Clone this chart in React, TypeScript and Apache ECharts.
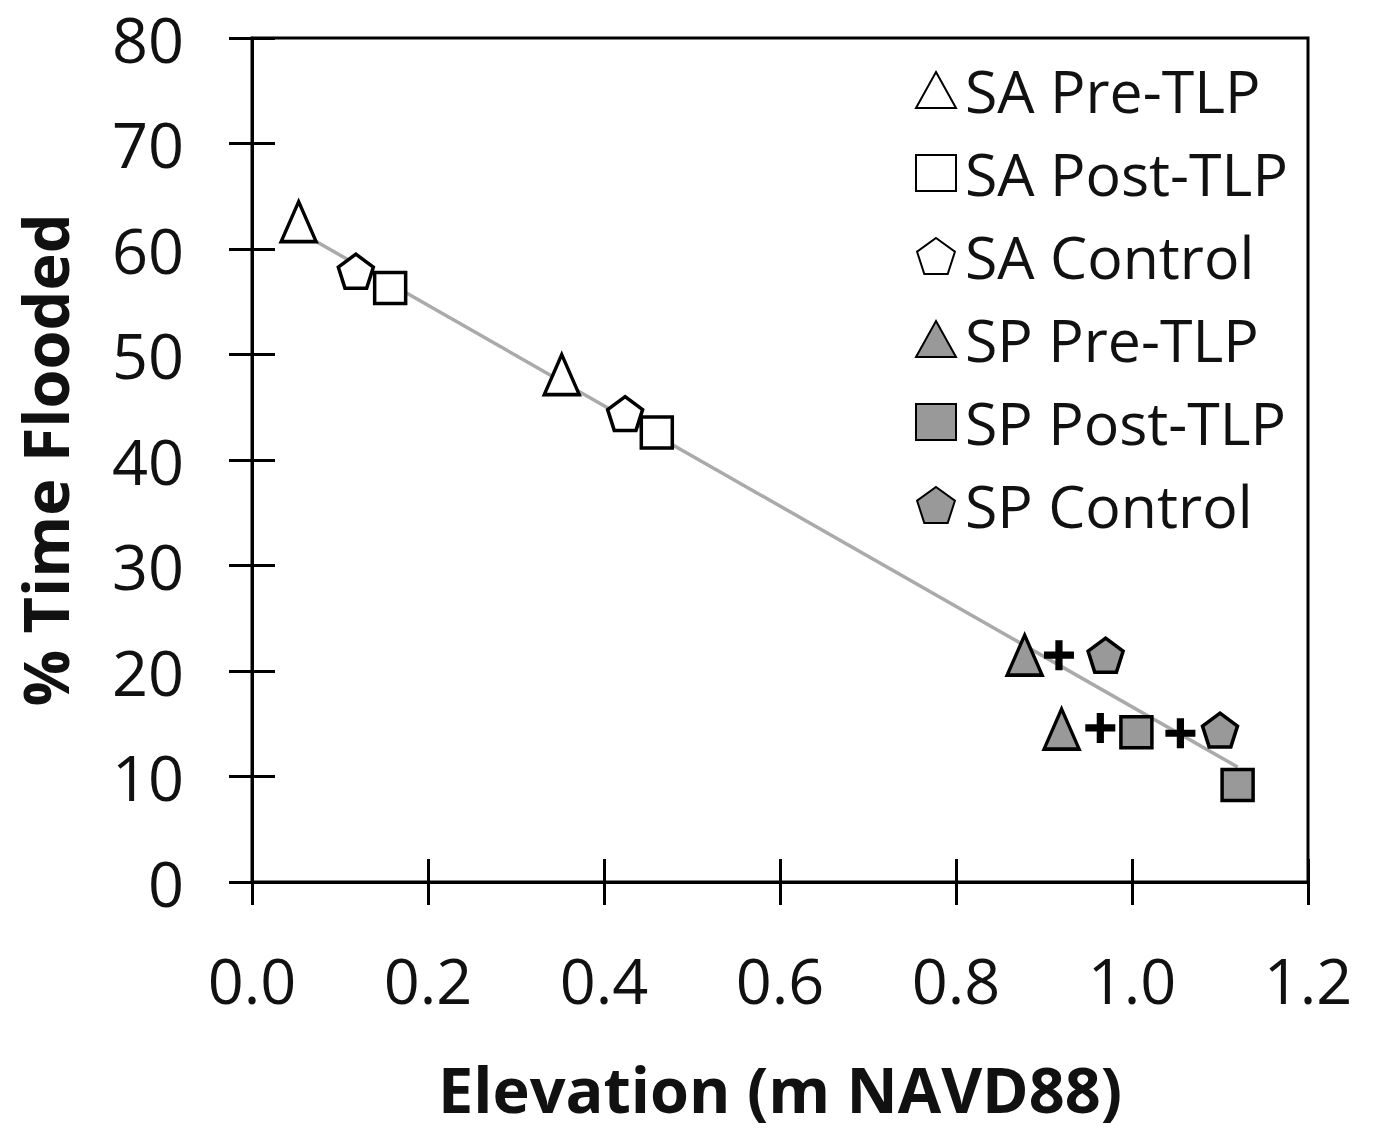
import React, { useEffect, useRef } from "react";
import * as echarts from "echarts";

const saPreTLP: [number, number][] = [[0.053, 62.6], [0.352, 48.1]];
const saPostTLP: [number, number][] = [[0.157, 56.3], [0.46, 42.6]];
const saControl: [number, number][] = [[0.118, 57.9], [0.424, 44.4]];
const spPreTLP: [number, number][] = [[0.878, 21.5], [0.92, 14.5]];
const spPostTLP: [number, number][] = [[1.005, 14.2], [1.12, 9.2]];
const spControl: [number, number][] = [[0.97, 21.5], [1.1, 14.4]];
const plusMarks: [number, number][] = [[0.917, 21.5], [0.964, 14.6], [1.055, 14.1]];
const trendLine: [number, number][] = [[0.05, 61.8], [1.12, 10.9]];

const xTicks = { min: 0, max: 1.2, interval: 0.2 };
const yTicks = { min: 0, max: 80, interval: 10 };

const PENTAGON = "path://M0,-1L0.951,-0.309L0.588,0.809L-0.588,0.809L-0.951,-0.309Z";
const PLUS = "path://M3.8,0H6.2V3.8H10V6.2H6.2V10H3.8V6.2H0V3.8H3.8Z";
const FONT = "'Open Sans', sans-serif";

export default function App() {
  const ref = useRef<HTMLDivElement>(null);
  useEffect(() => {
    if (!ref.current) return;
    const chart = echarts.init(ref.current, undefined, { renderer: "svg" });
    const mk = (name: string, data: [number, number][], symbol: string, size: number[], fill: string) => ({
      name,
      type: "scatter",
      data,
      symbol,
      symbolSize: size,
      z: 5,
      itemStyle: { color: fill, borderColor: "#000", borderWidth: 3.5, opacity: 1 },
    });
    const axisCommon = {
      type: "value",
      axisLine: { show: true, lineStyle: { color: "#000", width: 3 } },
      splitLine: { show: false },
    };
    chart.setOption({
      animation: false,
      backgroundColor: "#fff",
      grid: {
        left: 252,
        right: 65,
        top: 38,
        bottom: 248,
        show: true,
        borderColor: "#000",
        borderWidth: 3,
        backgroundColor: "transparent",
      },
      legend: {
        orient: "vertical",
        left: 910,
        top: 55,
        itemWidth: 40,
        itemHeight: 36,
        itemGap: 23,
        data: ["SA Pre-TLP", "SA Post-TLP", "SA Control", "SP Pre-TLP", "SP Post-TLP", "SP Control"],
        textStyle: {
          fontFamily: FONT,
          fontSize: 59,
          color: "#111",
          lineHeight: 60,
          padding: [0, 0, 0, 4],
        },
      },
      xAxis: [
        {
          ...axisCommon,
          ...xTicks,
          position: "bottom",
          axisTick: { show: true, inside: false, length: 23, lineStyle: { color: "#000", width: 3 } },
          axisLabel: {
            fontFamily: FONT,
            fontSize: 63,
            lineHeight: 50,
            color: "#111",
            margin: 72,
            formatter: (v: number) => v.toFixed(1),
          },
          name: "Elevation (m NAVD88)",
          nameLocation: "middle",
          nameGap: 176,
          nameTextStyle: { fontFamily: FONT, fontSize: 63, lineHeight: 60, fontWeight: "bold", color: "#111" },
        },
        {
          ...axisCommon,
          ...xTicks,
          position: "bottom",
          axisLine: { show: false },
          axisTick: { show: true, inside: true, length: 23, lineStyle: { color: "#000", width: 3 } },
          axisLabel: { show: false },
        },
      ],
      yAxis: [
        {
          ...axisCommon,
          ...yTicks,
          position: "left",
          axisTick: { show: true, inside: false, length: 23, lineStyle: { color: "#000", width: 3 } },
          axisLabel: { fontFamily: FONT, fontSize: 63, lineHeight: 50, color: "#111", margin: 68 },
          name: "% Time Flooded",
          nameLocation: "middle",
          nameGap: 176,
          nameTextStyle: { fontFamily: FONT, fontSize: 63, fontWeight: "bold", color: "#111" },
        },
        {
          ...axisCommon,
          ...yTicks,
          position: "left",
          axisLine: { show: false },
          axisTick: { show: true, inside: true, length: 23, lineStyle: { color: "#000", width: 3 } },
          axisLabel: { show: false },
        },
      ],
      series: [
        {
          name: "Trend",
          type: "line",
          data: trendLine,
          showSymbol: false,
          symbol: "none",
          z: 2,
          lineStyle: { color: "#aaaaaa", width: 3.5 },
        },
        mk("SA Pre-TLP", saPreTLP, "triangle", [35, 40], "#fff"),
        mk("SA Post-TLP", saPostTLP, "rect", [31, 31], "#fff"),
        mk("SA Control", saControl, PENTAGON, [35, 34], "#fff"),
        mk("SP Pre-TLP", spPreTLP, "triangle", [35, 40], "#999"),
        mk("SP Post-TLP", spPostTLP, "rect", [31, 31], "#999"),
        mk("SP Control", spControl, PENTAGON, [35, 34], "#999"),
        {
          name: "plus",
          type: "scatter",
          data: plusMarks,
          symbol: PLUS,
          symbolSize: [30, 30],
          z: 6,
          itemStyle: { color: "#000", opacity: 1 },
        },
      ],
    });
    return () => chart.dispose();
  }, []);
  return (
    <div
      ref={ref}
      style={{ position: "fixed", left: 0, top: 0, width: 1373, height: 1130, background: "#fff" }}
    />
  );
}
